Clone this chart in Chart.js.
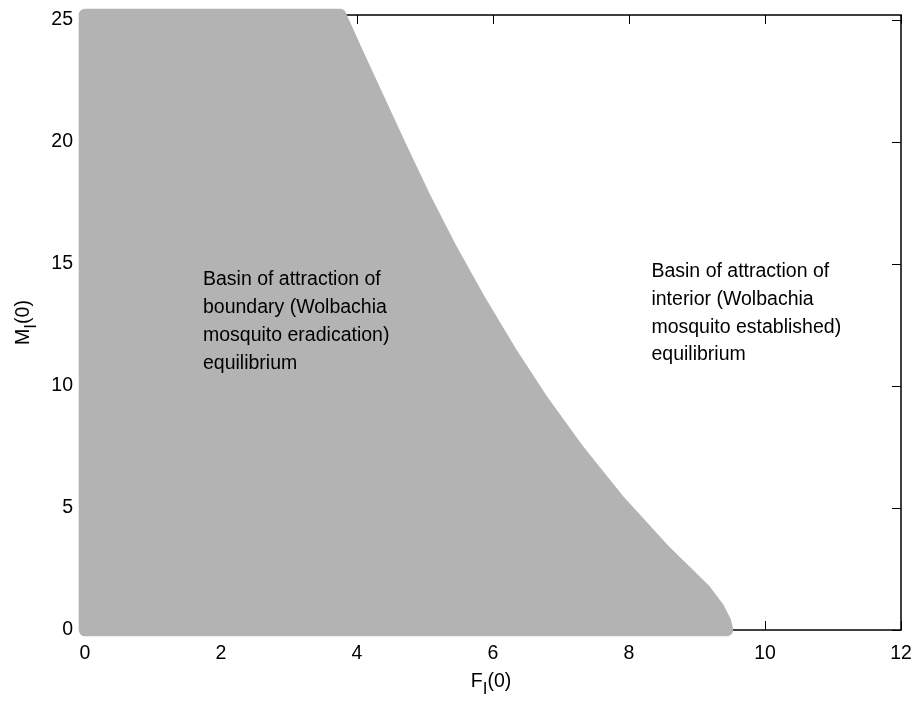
<!DOCTYPE html>
<html>
<head>
<meta charset="utf-8">
<script src="https://cdn.jsdelivr.net/npm/chart.js@4"></script>
<style>
  html, body { margin: 0; padding: 0; background: #fff; }
  #wrap { width: 916px; height: 706px; }
</style>
</head>
<body>
<div id="wrap"><canvas id="basin" width="916" height="706"></canvas></div>
<script>
// axis ticks
const xTicks = [0, 2, 4, 6, 8, 10, 12];
const yTicks = [0, 5, 10, 15, 20, 25];

// edge of the grey basin: F_I(0) reached for each M_I(0)
const boundaryM = [25.2, 23.77, 21.72, 19.67, 17.62, 15.57, 13.52, 11.47, 9.42, 7.38, 5.33, 3.28, 1.64, 0.9, 0.35, 0];
const boundaryF = [3.75, 3.98, 4.32, 4.66, 5.01, 5.39, 5.80, 6.24, 6.72, 7.25, 7.84, 8.51, 9.11, 9.31, 9.41, 9.44];

// text in the two regions
const leftNote = ['Basin of attraction of', 'boundary (Wolbachia', 'mosquito eradication)', 'equilibrium'];
const rightNote = ['Basin of attraction of', 'interior (Wolbachia', 'mosquito established)', 'equilibrium'];
const leftNoteAt = { x: 1.735, y: 14.12 };
const rightNoteAt = { x: 8.33, y: 14.46 };

const FONT = "'Liberation Sans', Arial, Helvetica, sans-serif";
const GRAY = '#b3b3b3';
const FS = 19.5;

// closed outline: up the M axis, along the top, down the boundary, back along F axis
const region = [{ x: 0, y: 0 }, { x: 0, y: boundaryM[0] }]
  .concat(boundaryF.map((f, i) => ({ x: f, y: boundaryM[i] })))
  .concat([{ x: 0, y: 0 }]);

// matlab style box with ticks pointing inwards, drawn under the data
const boxPlugin = {
  id: 'box',
  beforeDatasetsDraw(chart) {
    const { ctx, chartArea: a, scales: { x, y } } = chart;
    const len = 9;
    ctx.save();
    ctx.strokeStyle = '#000';
    ctx.lineWidth = 1;
    ctx.beginPath();
    xTicks.forEach(v => {
      const px = Math.round(x.getPixelForValue(v)) + 0.5;
      ctx.moveTo(px, a.bottom); ctx.lineTo(px, a.bottom - len);
      ctx.moveTo(px, a.top); ctx.lineTo(px, a.top + len);
    });
    yTicks.forEach(v => {
      const py = Math.round(y.getPixelForValue(v)) + 0.5;
      ctx.moveTo(a.left, py); ctx.lineTo(a.left + len, py);
      ctx.moveTo(a.right, py); ctx.lineTo(a.right - len, py);
    });
    ctx.stroke();
    ctx.lineWidth = 1.5;
    ctx.strokeRect(a.left, a.top, a.right - a.left, a.bottom - a.top);
    ctx.restore();
  }
};

function subText(ctx, main, sub, rest, x, y) {
  const big = FS + 'px ' + FONT, small = '17px ' + FONT;
  ctx.font = big; const w1 = ctx.measureText(main).width, w3 = ctx.measureText(rest).width;
  ctx.font = small; const w2 = ctx.measureText(sub).width;
  let cx = x - (w1 + w2 + w3) / 2;
  ctx.textAlign = 'left';
  ctx.textBaseline = 'alphabetic';
  ctx.font = big; ctx.fillText(main, cx, y); cx += w1;
  ctx.font = small; ctx.fillText(sub, cx, y + 7); cx += w2;
  ctx.font = big; ctx.fillText(rest, cx, y);
}

const textPlugin = {
  id: 'texts',
  afterDatasetsDraw(chart) {
    const { ctx, chartArea: a, scales: { x, y } } = chart;
    ctx.save();
    ctx.fillStyle = '#000';
    ctx.font = FS + 'px ' + FONT;
    ctx.textAlign = 'left';
    ctx.textBaseline = 'alphabetic';
    [[leftNote, leftNoteAt], [rightNote, rightNoteAt]].forEach(([lines, at]) => {
      const px = x.getPixelForValue(at.x), py = y.getPixelForValue(at.y);
      lines.forEach((t, i) => ctx.fillText(t, px, py + i * 27.7));
    });
    // axis titles with subscript I
    subText(ctx, 'F', 'I', '(0)', (a.left + a.right) / 2 - 2, 687);
    ctx.translate(29, (a.top + a.bottom) / 2);
    ctx.rotate(-Math.PI / 2);
    subText(ctx, 'M', 'I', '(0)', 0, 0);
    ctx.restore();
  }
};

new Chart(document.getElementById('basin'), {
  type: 'line',
  data: {
    datasets: [{
      data: region,
      backgroundColor: GRAY,
      borderColor: GRAY,
      borderWidth: 12.6,
      borderJoinStyle: 'round',
      borderCapStyle: 'round',
      pointRadius: 0,
      tension: 0,
      fill: 'shape',
      clip: false
    }]
  },
  options: {
    responsive: false,
    animation: false,
    layout: { padding: { top: 15, right: 15, left: 0, bottom: 0 } },
    plugins: { legend: { display: false }, tooltip: { enabled: false } },
    scales: {
      x: {
        type: 'linear', min: 0, max: 12,
        afterBuildTicks: s => { s.ticks = xTicks.map(v => ({ value: v })); },
        afterFit: s => { s.height = 76; s.paddingLeft = 0; s.paddingRight = 0; },
        grid: { display: false, drawTicks: false },
        border: { display: false },
        ticks: { color: '#000', font: { family: FONT, size: FS }, padding: 12, maxRotation: 0, autoSkip: false }
      },
      y: {
        type: 'linear', min: 0, max: 25.2,
        afterBuildTicks: s => { s.ticks = yTicks.map(v => ({ value: v })); },
        afterFit: s => { s.width = 85; s.paddingTop = 0; s.paddingBottom = 0; },
        grid: { display: false, drawTicks: false },
        border: { display: false },
        ticks: { color: '#000', font: { family: FONT, size: FS }, padding: 12, autoSkip: false }
      }
    }
  },
  plugins: [boxPlugin, textPlugin]
});
</script>
</body>
</html>
